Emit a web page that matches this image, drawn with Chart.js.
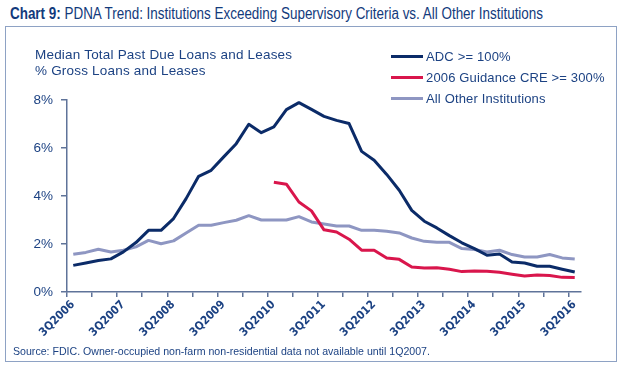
<!DOCTYPE html>
<html>
<head>
<meta charset="utf-8">
<script src="https://cdn.jsdelivr.net/npm/chart.js@4/dist/chart.umd.min.js"></script>
<style>
  html, body { margin:0; padding:0; background:#fff; }
  body { width:624px; height:370px; position:relative; overflow:hidden; }
  #title { position:absolute; left:10px; top:5px; font-family:"Liberation Sans",Arial,sans-serif; font-size:16px; line-height:18px; color:#123a7c; white-space:nowrap; transform-origin:0 0; }
  #frame { position:absolute; left:5px; top:26px; width:612px; height:336px; border:1.5px solid #8ea2c4; box-sizing:border-box; }
  #wrap { position:absolute; left:0; top:0; width:624px; height:370px; }
  #ytitle { position:absolute; left:35px; top:46.5px; font-family:"Liberation Sans",Arial,sans-serif; font-size:13.5px; letter-spacing:0.2px; line-height:16.5px; color:#1c4283; white-space:nowrap; }
  #legend { position:absolute; left:391px; top:45.5px; font-family:"Liberation Sans",Arial,sans-serif; font-size:13px; letter-spacing:0.15px; color:#1c4283; }
  .li { height:21px; line-height:21px; white-space:nowrap; position:relative; }
  .sw { display:inline-block; width:32px; height:3px; vertical-align:middle; margin-right:3px; position:relative; top:-1px; }
  #source { position:absolute; left:13px; top:345px; font-family:"Liberation Sans",Arial,sans-serif; font-size:10.6px; line-height:12px; color:#1c4283; white-space:nowrap; }
</style>
</head>
<body>
<div id="title"><b>Chart 9:</b> PDNA Trend: Institutions Exceeding Supervisory Criteria vs. All Other Institutions</div>
<div id="frame"></div>
<div id="wrap"><canvas id="c" width="624" height="370"></canvas></div>
<div id="ytitle">Median Total Past Due Loans and Leases<br>% Gross Loans and Leases</div>
<div id="legend"></div>
<div id="source">Source: FDIC. Owner-occupied non-farm non-residential data not available until 1Q2007.</div>
<script>
// Quarters 3Q2006 .. 3Q2016
const quarters = [
  '3Q2006','4Q2006','1Q2007','2Q2007','3Q2007','4Q2007','1Q2008','2Q2008','3Q2008','4Q2008',
  '1Q2009','2Q2009','3Q2009','4Q2009','1Q2010','2Q2010','3Q2010','4Q2010','1Q2011','2Q2011',
  '3Q2011','4Q2011','1Q2012','2Q2012','3Q2012','4Q2012','1Q2013','2Q2013','3Q2013','4Q2013',
  '1Q2014','2Q2014','3Q2014','4Q2014','1Q2015','2Q2015','3Q2015','4Q2015','1Q2016','2Q2016',
  '3Q2016'
];
const tickLabels = ['3Q2006','3Q2007','3Q2008','3Q2009','3Q2010','3Q2011','3Q2012','3Q2013','3Q2014','3Q2015','3Q2016'];

const seriesNames = ['ADC >= 100%', '2006 Guidance CRE >= 300%', 'All Other Institutions'];

const adc = [1.11,1.21,1.31,1.38,1.67,2.06,2.57,2.57,3.06,3.89,
             4.82,5.07,5.63,6.18,6.99,6.64,6.88,7.60,7.89,7.61,
             7.32,7.15,7.02,5.86,5.49,4.90,4.24,3.40,2.95,2.67,
             2.35,2.05,1.81,1.53,1.58,1.25,1.21,1.07,1.07,0.95,
             0.83];
const cre = [null,null,null,null,null,null,null,null,null,null,
             null,null,null,null,null,null,4.57,4.49,3.75,3.38,
             2.59,2.50,2.20,1.74,1.74,1.42,1.36,1.04,1.00,1.01,
             0.95,0.85,0.88,0.86,0.82,0.74,0.67,0.71,0.69,0.61,
             0.60];
const other = [1.57,1.65,1.78,1.67,1.74,1.88,2.15,2.01,2.13,2.46,
               2.78,2.78,2.89,2.99,3.18,3.00,3.00,3.00,3.14,2.92,
               2.83,2.75,2.75,2.57,2.57,2.53,2.46,2.25,2.11,2.07,
               2.07,1.81,1.77,1.67,1.74,1.56,1.46,1.46,1.56,1.42,
               1.38];

const colors = ['#0b2b68', '#d9164c', '#8e96c2'];
const navy = '#1c4283';
const axisColor = '#5f7399';

// fit title to reference width
(function () {
  const t = document.getElementById('title');
  const w = t.getBoundingClientRect().width;
  t.style.transform = 'scaleX(' + (533 / w) + ')';
})();

function pts(arr) { return arr.map((v, i) => ({ x: i + 0.5, y: v, q: quarters[i] })); }

const series = [adc, cre, other];
const datasets = series.map((arr, k) => ({
  label: seriesNames[k],
  data: pts(arr),
  borderColor: colors[k],
  backgroundColor: colors[k],
  borderWidth: 3,
  pointRadius: 0,
  tension: 0,
  spanGaps: false,
  borderJoinStyle: 'round'
}));

// HTML legend
const lg = document.getElementById('legend');
seriesNames.forEach((n, k) => {
  const d = document.createElement('div');
  d.className = 'li';
  d.innerHTML = '<span class="sw" style="background:' + colors[k] + '"></span>' + n.replace(/>/g, '&gt;');
  lg.appendChild(d);
});

new Chart(document.getElementById('c'), {
  type: 'line',
  data: { datasets },
  options: {
    responsive: false,
    animation: false,
    devicePixelRatio: 1,
    layout: { padding: { left: 0, top: 100, right: 43, bottom: 0 } },
    plugins: { legend: { display: false }, tooltip: { enabled: false }, title: { display: false } },
    scales: {
      x: {
        type: 'linear',
        min: 0,
        max: quarters.length,
        afterFit: s => { s.height = 78; },
        afterBuildTicks: s => { s.ticks = s.ticks.filter(t => t.value % 2 === 0 && t.value <= quarters.length - 1); },
        ticks: {
          stepSize: 2,
          includeBounds: false,
          autoSkip: false,
          maxRotation: 45,
          minRotation: 45,
          padding: 1,
          labelOffset: 6,
          color: navy,
          font: { family: "'Liberation Sans Narrow','DejaVu Sans Condensed',sans-serif", size: 11.5, weight: 'bold' },
          callback: v => (v % 4 === 0 ? tickLabels[v / 4] : '')
        },
        grid: { drawOnChartArea: false, drawTicks: true, tickLength: 5, color: axisColor, lineWidth: 1.5 },
        border: { color: axisColor, width: 1.5 }
      },
      y: {
        min: 0,
        max: 8,
        afterFit: s => { s.width = 67; },
        ticks: {
          stepSize: 2,
          padding: 8,
          color: navy,
          font: { family: "'Liberation Sans',Arial,sans-serif", size: 13.5 },
          callback: v => v + '%'
        },
        grid: { drawOnChartArea: false, drawTicks: true, tickLength: 6, color: axisColor, lineWidth: 1.5 },
        border: { color: axisColor, width: 1.5 }
      }
    }
  }
});
</script>
</body>
</html>
